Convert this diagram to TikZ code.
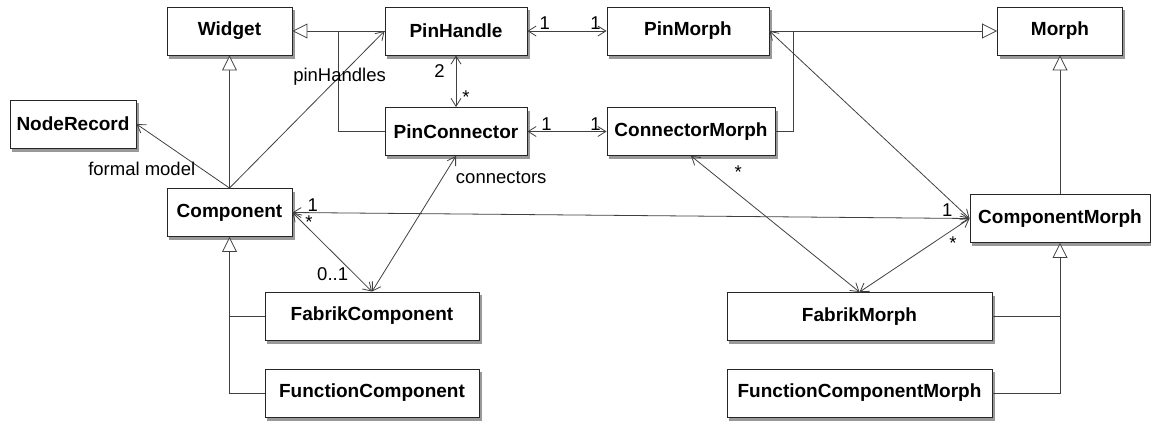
\documentclass[tikz,border=0pt]{standalone}
\usepackage{fontspec}
\setmainfont{Liberation Sans}
\usetikzlibrary{arrows.meta,backgrounds,calc}

\begin{document}
\begin{tikzpicture}[x=1pt,y=-1pt,
    box/.style={draw=black!85,fill=white,line width=0.9pt,minimum height=48pt,inner sep=0pt,
      font=\bfseries\fontsize{19}{22}\selectfont},
    shade/.style={fill=black!40},
    line/.style={draw=black!75,line width=0.8pt},
    gen/.style={line,-{Triangle[fill=white,length=15pt,width=15pt]}},
    navi/.style={line,-{Straight Barb[length=8pt,width=10pt]}},
    assoc/.style={line,{Straight Barb[length=8pt,width=10pt]}-{Straight Barb[length=8pt,width=10pt]}},
    lbl/.style={font=\fontsize{18.5}{21}\selectfont,inner sep=1pt}]
  \useasboundingbox (0,0) rectangle (1151,423);

  \node[box,minimum width=125pt] (widget) at (229.5,31) {Widget};
  \node[box,minimum width=142pt] (pinhandle) at (456,31) {PinHandle};
  \node[box,minimum width=162pt] (pinmorph) at (688,31) {PinMorph};
  \node[box,minimum width=125pt] (morph) at (1060,31) {Morph};
  \node[box,minimum width=126pt] (noderecord) at (73,124) {NodeRecord};
  \node[box,minimum width=142pt] (pinconnector) at (456,131.5) {PinConnector};
  \node[box,minimum width=168pt] (connectormorph) at (691,131.5) {ConnectorMorph};
  \node[box,minimum width=125pt] (component) at (229.5,212.5) {Component};
  \node[box,minimum width=180pt] (componentmorph) at (1060,218.5) {ComponentMorph};
  \node[box,minimum width=214pt] (fabrikcomponent) at (372,316) {FabrikComponent};
  \node[box,minimum width=214pt] (functioncomponent) at (372,393) {FunctionComponent};
  \node[box,minimum width=265pt] (fabrikmorph) at (859.5,316.5) {FabrikMorph};
  \node[box,minimum width=265pt] (functioncomponentmorph) at (859.5,393) {FunctionComponentMorph};

  \begin{scope}[on background layer]
    \foreach \n in {widget,pinhandle,pinmorph,morph,noderecord,pinconnector,connectormorph,
        component,componentmorph,fabrikcomponent,functioncomponent,fabrikmorph,functioncomponentmorph}
      \fill[shade] ($(\n.north west)+(2.5,3.5)$) rectangle ($(\n.south east)+(2.5,3.5)$);
  \end{scope}

  \coordinate (wjoin) at (338,31);
  \coordinate (mjoin) at (793,31);

  \draw[gen] (pinhandle.west) -- (widget.east);
  \draw[line] (pinconnector.west) -| (wjoin);
  \draw[gen] (pinmorph.east) -- (morph.west);
  \draw[line] (connectormorph.east) -| (mjoin);
  \draw[gen] (component.north) -- (widget.south);
  \draw[gen] (componentmorph.north) -- (morph.south);
  \draw[gen] (functioncomponent.west) -| (component.south);
  \draw[line] (fabrikcomponent.west) -- (fabrikcomponent.west -| component.south);
  \draw[gen] (functioncomponentmorph.east) -| (componentmorph.south);
  \draw[line] (fabrikmorph.east) -- (fabrikmorph.east -| componentmorph.south);

  \draw[navi] (component.north) -- node[lbl,pos=.3,left=5pt] {formal model} (noderecord.east);
  \draw[navi] (component.north) -- node[lbl,pos=.71] {pinHandles} (pinhandle.west);

  \draw[assoc] (pinhandle.east) -- node[lbl,pos=.22,above] {1} node[lbl,pos=.86,above] {1} (pinmorph.west);
  \draw[assoc] (pinhandle.south) -- node[lbl,pos=.3,left=10pt] {2} node[lbl,pos=.8,right=5pt] {*} (pinconnector.north);
  \draw[assoc] (pinconnector.east) -- node[lbl,pos=.24,above] {1} node[lbl,pos=.86,above] {1} (connectormorph.west);
  \draw[assoc] (component.east) -- node[lbl,pos=.03,above] {1} node[lbl,pos=.967,above] {1} (componentmorph.west);
  \draw[assoc] (component.east) -- node[lbl,pos=.12,right=2pt] {*} node[lbl,pos=.78,left=5pt] {0..1} (fabrikcomponent.north);
  \draw[assoc] (pinconnector.south) -- node[lbl,pos=.16,right=12pt] {connectors} (fabrikcomponent.north);
  \draw[assoc] (pinmorph.east) -- (componentmorph.west);
  \draw[assoc] (connectormorph.south) -- node[lbl,pos=.12,right=22pt] {*} (fabrikmorph.north);
  \draw[assoc] (fabrikmorph.north) -- node[lbl,pos=.85,below=6pt] {*} (componentmorph.west);
\end{tikzpicture}
\end{document}
